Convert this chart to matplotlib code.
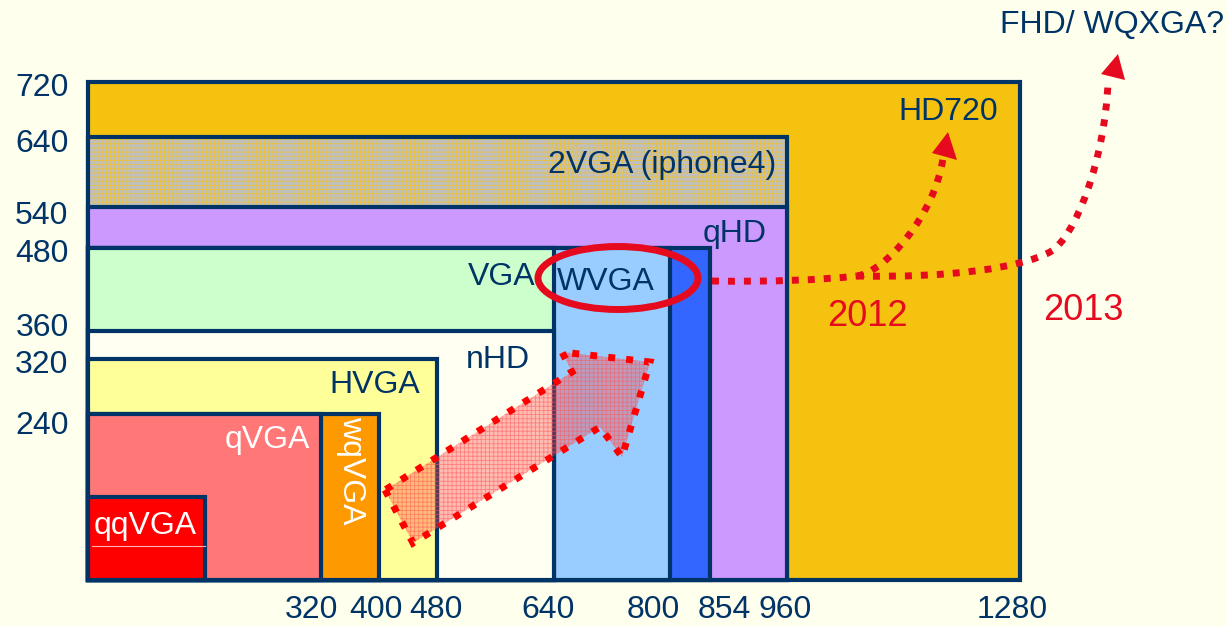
import matplotlib
matplotlib.use("Agg")
import matplotlib.pyplot as plt
from matplotlib.patches import Rectangle, Ellipse, Polygon, PathPatch
from matplotlib.path import Path
from matplotlib.transforms import ScaledTranslation

plt.rcParams['font.family'] = ['Liberation Sans', 'DejaVu Sans']
plt.rcParams['hatch.linewidth'] = 0.6

# ---- data ----
names = ["HD720", "2VGA (iphone4)", "qHD", "FWVGA", "WVGA", "VGA", "nHD",
         "HVGA", "wqVGA", "qVGA", "qqVGA"]
widths = [1280, 960, 960, 854, 800, 640, 640, 480, 400, 320, 160]
heights = [720, 640, 540, 480, 480, 480, 360, 320, 240, 240, 120]
x_ticks = [320, 400, 480, 640, 800, 854, 960, 1280]
y_ticks = [240, 320, 360, 480, 540, 640, 720]
years = ["2012", "2013"]
future_label = "FHD/ WQXGA?"

# ---- styles ----
fills = ["#F5C20F", "#C0C0C0", "#CC99FF", "#3366FF", "#99CCFF", "#CCFFCC",
         "#FFFFF2", "#FFFF99", "#FF9900", "#FF7777", "#FF0000"]
NAVY = "#003366"
RED = "#E60A1E"
BG = "#FFFFEE"
FS = 23

W, H = 1227, 626
fig = plt.figure(figsize=(W / 100, H / 100), dpi=100, facecolor=BG)
ax = fig.add_axes([88 / W, 46 / H, 932 / W, 498 / H])
ax.set_xlim(0, 1280)
ax.set_ylim(0, 720)
ax.set_facecolor('none')
for s in ax.spines.values():
    s.set_visible(False)


def P(px, py):
    """pixel position in the figure -> data coords (for annotations)"""
    return ((px - 88) * 1280 / 932, (580 - py) * 720 / 498)


# rectangles
for i, (n, w, h, c) in enumerate(zip(names, widths, heights, fills)):
    ax.add_patch(Rectangle((0, 0), w, h, facecolor=c, edgecolor='none',
                           zorder=2 + i * 0.1, clip_on=False))
    if n.startswith("2VGA"):
        ax.add_patch(Rectangle((0, 0), w, h, facecolor='none', edgecolor='#E8C040',
                               hatch='++++', linewidth=0, zorder=2 + i * 0.1 + 0.01,
                               clip_on=False))
    ax.add_patch(Rectangle((0, 0), w, h, facecolor='none', edgecolor=NAVY,
                           linewidth=3, zorder=2 + i * 0.1 + 0.02, clip_on=False))

# rectangle labels
lab = dict(fontsize=FS, zorder=10)
ax.text(*P(948, 112), "HD720", color=NAVY, ha='center', va='center', **lab)
ax.text(*P(776, 165), "2VGA (iphone4)", color=NAVY, ha='right', va='center', **lab)
ax.text(*P(735, 234), "qHD", color=NAVY, ha='center', va='center', **lab)
ax.text(*P(535, 277), "VGA", color=NAVY, ha='right', va='center', **lab)
ax.text(*P(606, 282), "WVGA", color=NAVY, ha='center', va='center', **lab)
ax.text(*P(498, 360), "nHD", color=NAVY, ha='center', va='center', **lab)
ax.text(*P(375, 385), "HVGA", color=NAVY, ha='center', va='center', **lab)
ax.text(*P(267, 440), "qVGA", color='white', ha='center', va='center', **lab)
ax.text(*P(351, 470), "wqVGA", color='white', ha='center', va='center',
        rotation=-90, **lab)
ax.text(*P(145, 526), "qqVGA", color='white', ha='center', va='center', **lab)
x0, y0 = P(92, 546)
x1, _ = P(205, 546)
ax.plot([x0, x1], [y0, y0], color='#FFB0B0', lw=0.8, zorder=10, clip_on=False)

# ticks
ax.set_xticks(x_ticks)
ax.set_xticklabels([str(v) for v in x_ticks])
ax.set_yticks(y_ticks)
ax.set_yticklabels([str(v) for v in y_ticks])
ax.tick_params(length=0, labelsize=FS, labelcolor=NAVY)
ax.tick_params(axis='x', pad=11)
ax.tick_params(axis='y', pad=14)

# small manual nudges of tick labels (pixels) as in the reference
x_nudge = {320: -10, 400: -3, 480: -2, 640: -6, 800: -17, 854: 14, 960: -2, 1280: -8}
y_nudge = {720: -2, 640: -3, 540: -6, 480: -2, 360: 6, 320: -3, 240: -9}
for t in ax.get_xticklabels():
    v = int(t.get_text())
    t.set_transform(t.get_transform() + ScaledTranslation(x_nudge.get(v, 0) / 100, 0,
                                                          fig.dpi_scale_trans))
for t in ax.get_yticklabels():
    v = int(t.get_text())
    t.set_transform(t.get_transform() + ScaledTranslation(0, y_nudge.get(v, 0) / 100,
                                                          fig.dpi_scale_trans))

# red ellipse around WVGA
ax.add_patch(Ellipse(P(618, 278), 160 * 1280 / 932, 63 * 720 / 498,
                     facecolor='none', edgecolor=RED, linewidth=5, zorder=12,
                     clip_on=False))

dot = dict(edgecolor=RED, facecolor='none', linewidth=5,
           linestyle=(0, (1, 1.3)), zorder=12, clip_on=False)


def bez(points):
    verts = [P(*p) for p in points]
    codes = [Path.MOVETO] + [Path.CURVE4] * (len(verts) - 1)
    return Path(verts, codes)


# shared start
ax.add_patch(PathPatch(bez([(712, 281), (770, 282), (820, 280), (857, 276)]), **dot))
# to HD720
ax.add_patch(PathPatch(bez([(857, 276), (885, 272), (935, 215), (943, 158)]), **dot))
ax.add_patch(Polygon([P(948, 132), P(932, 153), P(957, 160)], closed=True,
                     facecolor=RED, edgecolor='none', zorder=12, clip_on=False))
# to FHD
ax.add_patch(PathPatch(bez([(857, 276), (950, 278), (1020, 268), (1050, 252),
                            (1075, 238), (1105, 160), (1108, 82)]), **dot))
ax.add_patch(Polygon([P(1118, 54), P(1101, 74), P(1125, 80)], closed=True,
                     facecolor=RED, edgecolor='none', zorder=12, clip_on=False))

ax.text(*P(867, 317), years[0], color=RED, fontsize=26, ha='center', va='center',
        zorder=12)
ax.text(*P(1083, 311), years[1], color=RED, fontsize=26, ha='center', va='center',
        zorder=12)
ax.text(*P(1112, 25), future_label, color=NAVY, fontsize=FS, ha='center',
        va='center', zorder=12)

# big hatched arrow
arrow_px = [(385, 490), (413, 543), (600, 427), (622, 457), (650, 362),
            (562, 352), (572, 372)]
arrow = [P(*p) for p in arrow_px]
ax.add_patch(Polygon(arrow, closed=True, facecolor=(1, 0.25, 0.25, 0.35),
                     edgecolor=(1, 0.35, 0.35, 0.6), hatch='++++', linewidth=0,
                     zorder=11, clip_on=False))
ax.add_patch(Polygon(arrow, closed=True, facecolor='none', edgecolor='#FF0000',
                     linewidth=5, linestyle=(0, (1, 1.6)), zorder=11.5,
                     clip_on=False))

fig.savefig("out.png", dpi=100, facecolor=BG)
